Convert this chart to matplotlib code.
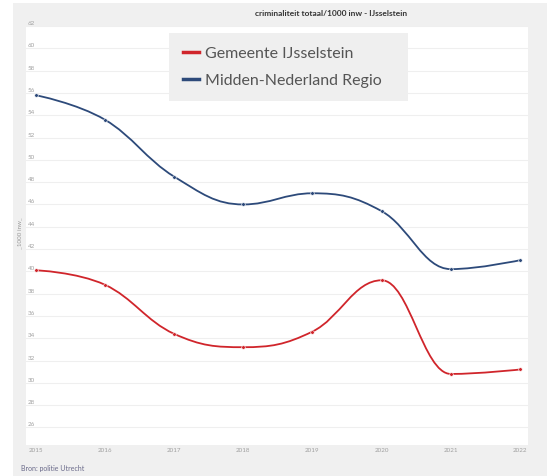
import matplotlib
matplotlib.use("Agg")
import matplotlib.pyplot as plt
from matplotlib.path import Path
from matplotlib.patches import PathPatch, Rectangle
from matplotlib.lines import Line2D

plt.rcParams['font.family'] = ['Lato', 'DejaVu Sans']

years = [2015, 2016, 2017, 2018, 2019, 2020, 2021, 2022]
gemeente = [40.1, 38.8, 34.4, 33.2, 34.6, 39.2, 30.8, 31.2]
regio = [55.8, 53.6, 48.5, 46.0, 47.0, 45.4, 40.2, 41.0]
y_ticks = list(range(26, 63, 2))

title = "criminaliteit totaal/1000 inw - IJsselstein"
source = "Bron: politie Utrecht"
red = "#d0252b"
blue = "#2d4a7a"


def spline_path(xs, ys, smoothing=1.5):
    # highcharts-like spline: cubic bezier between points
    denom = smoothing + 1
    n = len(xs)
    lc = [(xs[i], ys[i]) for i in range(n)]
    rc = [(xs[i], ys[i]) for i in range(n)]
    for i in range(1, n - 1):
        px, py = xs[i], ys[i]
        lx, ly = xs[i - 1], ys[i - 1]
        nx, ny = xs[i + 1], ys[i + 1]
        lcx = (smoothing * px + lx) / denom
        lcy = (smoothing * py + ly) / denom
        rcx = (smoothing * px + nx) / denom
        rcy = (smoothing * py + ny) / denom
        if rcx != lcx:
            corr = (rcy - lcy) * (rcx - px) / (rcx - lcx) + py - rcy
            lcy += corr
            rcy += corr
        if lcy > ly and lcy > py:
            lcy = max(ly, py)
            rcy = 2 * py - lcy
        elif lcy < ly and lcy < py:
            lcy = min(ly, py)
            rcy = 2 * py - lcy
        if rcy > ny and rcy > py:
            rcy = max(ny, py)
            lcy = 2 * py - rcy
        elif rcy < ny and rcy < py:
            rcy = min(ny, py)
            lcy = 2 * py - rcy
        lc[i] = (lcx, lcy)
        rc[i] = (rcx, rcy)
    verts = [(xs[0], ys[0])]
    codes = [Path.MOVETO]
    for i in range(1, n):
        verts += [rc[i - 1], lc[i], (xs[i], ys[i])]
        codes += [Path.CURVE4] * 3
    return Path(verts, codes)


fig = plt.figure(figsize=(5.5, 4.76), dpi=100)
fig.patch.set_facecolor("white")
bg = Rectangle((13 / 550, 0), 534 / 550, 473 / 476, transform=fig.transFigure,
               facecolor="#f0f0f0", edgecolor="none", zorder=-5)
fig.add_artist(bg)

ax = fig.add_axes([26 / 550, 1 - 445 / 476, 502 / 550, 419 / 476])
ax.set_zorder(1)
ax.set_facecolor("white")
for s in ax.spines.values():
    s.set_visible(False)

for vals, col in [(gemeente, red), (regio, blue)]:
    ax.add_patch(PathPatch(spline_path(years, vals), facecolor="none",
                           edgecolor=col, lw=1.3, zorder=3))
    ax.plot(years, vals, ls="none", marker="o", ms=2.6, color=col,
            mec="white", mew=0.4, zorder=4)

ax.set_xlim(2014.86, 2022.116)
ax.set_ylim(24.43, 62.0)
ax.set_yticks(y_ticks)
ax.set_yticklabels([str(t) for t in y_ticks])
ax.set_xticks(years)
ax.set_xticklabels([str(y) for y in years])
ax.grid(axis="y", color="#efefef", lw=0.8, zorder=0)
ax.grid(axis="x", visible=False)
ax.tick_params(axis="y", length=0, pad=-1.5, labelsize=4.5, labelcolor="#a0a0a0")
ax.tick_params(axis="x", length=0, pad=2, labelsize=4.5, labelcolor="#a0a0a0")
for lab in ax.get_yticklabels():
    lab.set_horizontalalignment("left")
    lab.set_verticalalignment("bottom")

handles = [Line2D([], [], color=red, lw=2.5), Line2D([], [], color=blue, lw=2.5)]
leg = ax.legend(handles, ["Gemeente IJsselstein", "Midden-Nederland Regio"],
                loc="upper left", bbox_to_anchor=(0.285, 0.0, 0.476, 0.983),
                mode="expand", fontsize=11.5,
                frameon=True, fancybox=False, facecolor="#efefef", edgecolor="none",
                framealpha=1, handlelength=1.0, handletextpad=0.4,
                borderpad=0.85, labelspacing=0.8, borderaxespad=0)
for t in leg.get_texts():
    t.set_color("#555555")

fig.text(331 / 550, 1 - 13 / 476, title, ha="center", va="center",
         fontsize=6, fontweight="bold", color="#333333")
fig.text(20 / 550, 1 - 233 / 476, "_1000 inw_", rotation=90, ha="center",
         va="center", fontsize=4.5, color="#9a9a9a")
fig.text(21 / 550, 1 - 468 / 476, source, ha="left", va="center",
         fontsize=5, color="#6a6a8a")

fig.savefig("out.png", dpi=100, facecolor=fig.get_facecolor())
